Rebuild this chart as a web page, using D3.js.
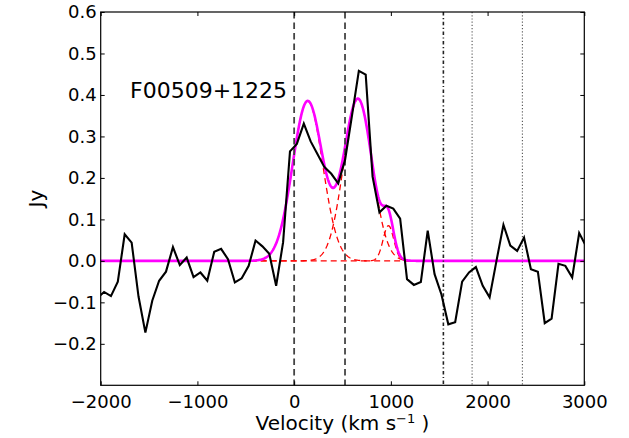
<!DOCTYPE html>
<html><head><meta charset="utf-8">
<script src="https://cdn.jsdelivr.net/npm/d3@7"></script>
<style>body{margin:0;background:#fff} svg{display:block} text{font-family:"DejaVu Sans",sans-serif;fill:#000}</style>
</head><body><svg id="c" width="629" height="438"></svg>
<script>
// ---- data ----
const velocity = [-2036,-1965,-1894,-1823,-1752,-1680,-1609,-1538,-1467,-1396,-1325,-1253,-1182,-1111,-1040,-969,-898,-826,-755,-684,-613,-542,-470,-399,-328,-257,-186,-114,-43,28,100,171,242,313,384,456,527,598,669,740,811,882,954,1025,1096,1167,1238,1310,1381,1452,1523,1594,1665,1737,1808,1879,1950,2021,2092,2164,2235,2306,2377,2448,2520,2591,2662,2733,2804,2875,2947,3018];
const flux = [-0.090,-0.075,-0.085,-0.050,0.064,0.044,-0.086,-0.173,-0.096,-0.048,-0.026,0.033,-0.010,0.008,-0.039,-0.028,-0.048,0.022,0.029,0.004,-0.052,-0.042,-0.012,0.049,0.035,0.017,-0.060,0.045,0.264,0.282,0.331,0.288,0.257,0.226,0.210,0.187,0.244,0.350,0.458,0.449,0.203,0.117,0.133,0.126,0.102,-0.044,-0.058,-0.051,0.073,-0.032,-0.081,-0.153,-0.148,-0.050,-0.028,-0.015,-0.060,-0.088,0.000,0.087,0.037,0.024,0.056,-0.020,-0.026,-0.150,-0.139,-0.007,-0.012,-0.040,0.067,0.035];
const gaussAmp = [0.385, 0.39, 0.085];
const gaussCenter = [140, 660, 975];
const gaussSigma = [155, 147, 55];
const dashedLines = [0, 526];
const dashDotLines = [1543];
const dottedLines = [1840, 2360];
const xTicks = [-2000, -1000, 0, 1000, 2000, 3000];
const yTicks = [-0.2, -0.1, 0.0, 0.1, 0.2, 0.3, 0.4, 0.5, 0.6];
const xDomain = [-2000, 3000];
const yDomain = [-0.3, 0.6];
const sourceName = "F00509+1225";

// ---- layout ----
const L = 100.7, R = 584.3, T = 12, B = 385.3;
const svg = d3.select("#c");
const x = d3.scaleLinear().domain(xDomain).range([L, R]);
const y = d3.scaleLinear().domain(yDomain).range([B, T]);

svg.append("defs").append("clipPath").attr("id","clip")
  .append("rect").attr("x",L).attr("y",T).attr("width",R-L).attr("height",B-T);
const plot = svg.append("g").attr("clip-path","url(#clip)");

// model curves
const grid = d3.range(xDomain[0], xDomain[1] + 1, 5);
const comp = (i, v) => gaussAmp[i] * Math.exp(-((v - gaussCenter[i]) ** 2) / (2 * gaussSigma[i] ** 2));
const line = d3.line().x(d => x(d[0])).y(d => y(d[1]));

gaussAmp.forEach((a, i) => {
  plot.append("path").datum(grid.map(v => [v, comp(i, v)]))
    .attr("d", line).attr("fill","none").attr("stroke","#ff0000")
    .attr("stroke-width",1.3).attr("stroke-dasharray","6,4");
});
plot.append("path").datum(grid.map(v => [v, d3.sum(gaussAmp, (a, i) => comp(i, v))]))
  .attr("d", line).attr("fill","none").attr("stroke","#ff00ff").attr("stroke-width",2.6);

// vertical markers
dashedLines.forEach(v => plot.append("line").attr("x1",x(v)).attr("x2",x(v)).attr("y1",T).attr("y2",B)
  .attr("stroke","#444").attr("stroke-width",1.8).attr("stroke-dasharray","6.5,4"));
dashDotLines.forEach(v => plot.append("line").attr("x1",x(v)).attr("x2",x(v)).attr("y1",T).attr("y2",B)
  .attr("stroke","#222").attr("stroke-width",1.6).attr("stroke-dasharray","3.5,2.5,1.2,2.5"));
dottedLines.forEach(v => plot.append("line").attr("x1",x(v)).attr("x2",x(v)).attr("y1",T).attr("y2",B)
  .attr("stroke","#555").attr("stroke-width",1.1).attr("stroke-dasharray","1.2,2"));

// data spectrum
plot.append("path").datum(velocity.map((v, i) => [v, flux[i]]))
  .attr("d", line).attr("fill","none").attr("stroke","#000").attr("stroke-width",2.1)
  .attr("stroke-linejoin","miter");

// axes
const fmtY = d3.format(".1f");
const axB = svg.append("g").attr("transform",`translate(0,${B})`)
  .call(d3.axisBottom(x).tickValues(xTicks).tickSize(-4).tickPadding(9.5).tickFormat(d3.format("d")));
const axT = svg.append("g").attr("transform",`translate(0,${T})`)
  .call(d3.axisTop(x).tickValues(xTicks).tickSize(-4).tickFormat(""));
const axL = svg.append("g").attr("transform",`translate(${L},0)`)
  .call(d3.axisLeft(y).tickValues(yTicks).tickSize(-4).tickPadding(4).tickFormat(fmtY));
const axR = svg.append("g").attr("transform",`translate(${R},0)`)
  .call(d3.axisRight(y).tickValues(yTicks).tickSize(-4).tickFormat(""));
[axB, axT, axL, axR].forEach(g => {
  g.select(".domain").remove();
  g.selectAll(".tick line").attr("stroke","#000").attr("stroke-width",1);
  g.selectAll("text").attr("font-size",18).attr("font-family","DejaVu Sans, sans-serif").attr("fill","#000");
});
svg.append("rect").attr("x",L).attr("y",T).attr("width",R-L).attr("height",B-T)
  .attr("fill","none").attr("stroke","#000").attr("stroke-width",1.2);

// labels
const xl = svg.append("text").attr("x",(L+R)/2).attr("y",430).attr("text-anchor","middle").attr("font-size",20);
xl.append("tspan").text("Velocity (km s");
xl.append("tspan").attr("dy",-7).attr("font-size",13).text("\u22121");
xl.append("tspan").attr("dy",7).text(" )");
svg.append("text").attr("transform",`translate(42.6,${(T+B)/2}) rotate(-90)`)
  .attr("text-anchor","middle").attr("font-size",20).text("Jy");
svg.append("text").attr("x",130).attr("y",97.7).attr("font-size",22).text(sourceName);
</script></body></html>
